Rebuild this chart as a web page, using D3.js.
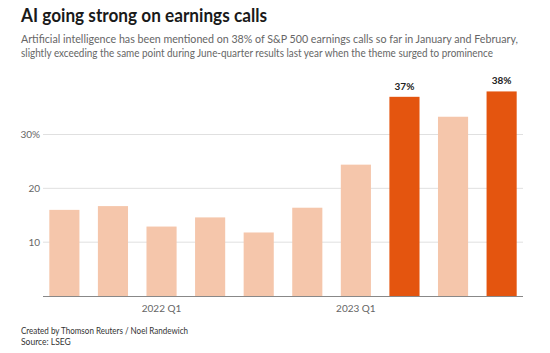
<!DOCTYPE html>
<html>
<head>
<meta charset="utf-8">
<script src="https://cdn.jsdelivr.net/npm/d3@7"></script>
<style>
  body { margin: 0; background: #fff; }
  text { font-family: "Source Sans Pro", Lato, "Open Sans", sans-serif; }
</style>
</head>
<body>
<script>
// chart data
var periods = ["2021 Q3", "2021 Q4", "2022 Q1", "2022 Q2", "2022 Q3", "2022 Q4", "2023 Q1", "2023 Q2", "2023 Q3", "2024 Q1"];
var shares = [16.0, 16.7, 12.9, 14.6, 11.8, 16.4, 24.4, 37, 33.3, 38];
var highlighted = ["2023 Q2", "2024 Q1"];
var xTicks = ["2022 Q1", "2023 Q1"];
var yTicks = [10, 20, 30];

var w = 550;
var h = 353;
var margin = {top: 80, right: 27, bottom: 57, left: 43};

var svg = d3.select("body")
	.append("svg")
	.attr("width", w)
	.attr("height", h)

// Lato runs wider than the original font, so squeeze text to the measured widths
function fitText(sel, len) {
	sel.attr("textLength", len).attr("lengthAdjust", "spacingAndGlyphs")
}

svg.append("text")
	.attr("x", 21)
	.attr("y", 22)
	.attr("font-size", "18px")
	.attr("font-weight", "bold")
	.attr("fill", "#1a1a1a")
	.text("AI going strong on earnings calls")
	.call(fitText, 246)

var sub = ["Artificial intelligence has been mentioned on 38% of S&P 500 earnings calls so far in January and February,",
	"slightly exceeding the same point during June-quarter results last year when the theme surged to prominence"];
var subWidths = [497, 472];
svg.selectAll(".sub")
	.data(sub)
	.enter()
	.append("text")
	.attr("class", "sub")
	.attr("x", 21)
	.attr("y", function(d, i) { return 43 + i * 14 })
	.attr("font-size", "11px")
	.attr("fill", "#666")
	.attr("textLength", function(d, i) { return subWidths[i] })
	.attr("lengthAdjust", "spacingAndGlyphs")
	.text(function(d) { return d })

var x = d3.scaleBand()
	.domain(periods)
	.range([margin.left, w - margin.right])
	.paddingInner(0.38)
	.paddingOuter(0.13);

var y = d3.scaleLinear()
	.domain([0, 30])
	.range([h - margin.bottom, 134.5]);

// gridlines
svg.selectAll(".grid")
	.data(yTicks)
	.enter()
	.append("line")
	.attr("x1", margin.left)
	.attr("x2", w - margin.right)
	.attr("y1", function(d) { return y(d) })
	.attr("y2", function(d) { return y(d) })
	.attr("stroke", "#e0e0e0")
	.attr("stroke-width", 1)

svg.selectAll(".ylab")
	.data(yTicks)
	.enter()
	.append("text")
	.attr("x", 40)
	.attr("y", function(d) { return y(d) + 3.5 })
	.attr("text-anchor", "end")
	.attr("font-size", "10px")
	.attr("fill", "#666")
	.text(function(d) { return d == 30 ? d + "%" : d })

svg.selectAll("rect")
	.data(shares)
	.enter()
	.append("rect")
	.attr("x", function(d, i) { return x(periods[i]) })
	.attr("y", function(d) { return y(d) })
	.attr("width", x.bandwidth())
	.attr("height", function(d) { return y(0) - y(d) })
	.attr("fill", function(d, i) {
		return highlighted.indexOf(periods[i]) >= 0 ? "#e4550f" : "#f5c6ab";
	})

svg.selectAll(".vlab")
	.data(periods.filter(function(p) { return highlighted.indexOf(p) >= 0 }))
	.enter()
	.append("text")
	.attr("x", function(p) { return x(p) + x.bandwidth() / 2 })
	.attr("y", function(p) { return y(shares[periods.indexOf(p)]) - 7 })
	.attr("text-anchor", "middle")
	.attr("font-size", "10px")
	.attr("font-weight", "bold")
	.attr("fill", "#222")
	.text(function(p) { return Math.round(shares[periods.indexOf(p)]) + "%" })

// baseline
svg.append("line")
	.attr("x1", margin.left)
	.attr("x2", w - margin.right)
	.attr("y1", y(0) + 0.5)
	.attr("y2", y(0) + 0.5)
	.attr("stroke", "#888")
	.attr("stroke-width", 1)

svg.selectAll(".xlab")
	.data(xTicks)
	.enter()
	.append("text")
	.attr("x", function(d) { return x(d) + x.bandwidth() / 2 })
	.attr("y", h - margin.bottom + 16)
	.attr("text-anchor", "middle")
	.attr("font-size", "10px")
	.attr("fill", "#666")
	.text(function(d) { return d })

svg.append("text")
	.attr("x", 21)
	.attr("y", 334)
	.attr("font-size", "8.5px")
	.attr("fill", "#333")
	.text("Created by Thomson Reuters / Noel Randewich")
	.call(fitText, 167)
svg.append("text")
	.attr("x", 21)
	.attr("y", 345)
	.attr("font-size", "8.5px")
	.attr("fill", "#333")
	.text("Source: LSEG")
</script>
</body>
</html>
